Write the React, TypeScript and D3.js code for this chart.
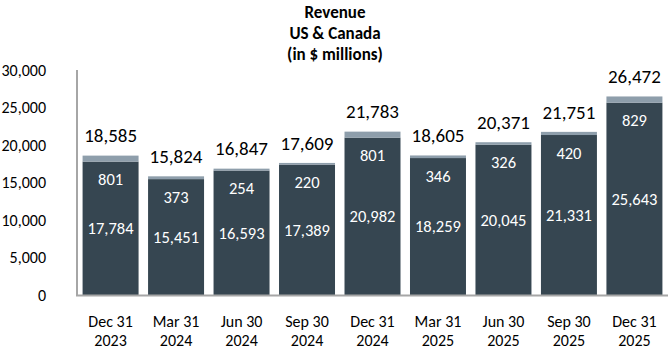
import { useRef, useEffect } from "react";
import * as d3 from "d3";

const W = 670;
const H = 352;

const categories = [
  ["Dec 31", "2023"],
  ["Mar 31", "2024"],
  ["Jun 30", "2024"],
  ["Sep 30", "2024"],
  ["Dec 31", "2024"],
  ["Mar 31", "2025"],
  ["Jun 30", "2025"],
  ["Sep 30", "2025"],
  ["Dec 31", "2025"],
];
const baseValues = [17784, 15451, 16593, 17389, 20982, 18259, 20045, 21331, 25643];
const topValues = [801, 373, 254, 220, 801, 346, 326, 420, 829];
const totals = [18585, 15824, 16847, 17609, 21783, 18605, 20371, 21751, 26472];
const yTicks = [0, 5000, 10000, 15000, 20000, 25000, 30000];
const titleLines = ["Revenue", "US & Canada", "(in $ millions)"];

const FONT = "Carlito, Calibri, Lato, sans-serif";
const DARK = "#364651";
const LIGHT = "#8e9eab";
const AXIS = "#a6a6a6";

function App() {
  const ref = useRef<SVGSVGElement>(null);

  useEffect(() => {
    const svg = d3.select(ref.current);
    svg.selectAll("*").remove();

    const keys = categories.map((c) => c.join(" "));
    const x = d3.scaleBand().domain(keys).range([78, 667]).paddingInner(0.145).paddingOuter(0.07);
    const y = d3.scaleLinear().domain([0, 30000]).range([295, 70]);
    const fmt = d3.format(",");

    // title
    svg
      .append("g")
      .selectAll("text")
      .data(titleLines)
      .join("text")
      .attr("x", 335)
      .attr("y", (_, i) => 18 + i * 21)
      .attr("text-anchor", "middle")
      .style("font-family", FONT)
      .style("font-size", "17px")
      .style("font-weight", "bold")
      .text((d) => d);

    // y tick labels
    svg
      .append("g")
      .selectAll("text")
      .data(yTicks)
      .join("text")
      .attr("x", 46)
      .attr("y", (d) => y(d))
      .attr("dy", "0.35em")
      .attr("text-anchor", "end")
      .style("font-family", FONT)
      .style("font-size", "16px")
      .text((d) => fmt(d));

    const bars = svg.append("g");
    // dark base segment
    bars
      .selectAll(".base")
      .data(baseValues)
      .join("rect")
      .attr("class", "base")
      .attr("x", (_, i) => x(keys[i])!)
      .attr("width", x.bandwidth())
      .attr("y", (d) => y(d))
      .attr("height", (d) => y(0) - y(d))
      .attr("fill", DARK);
    // light top segment
    bars
      .selectAll(".top")
      .data(topValues)
      .join("rect")
      .attr("class", "top")
      .attr("x", (_, i) => x(keys[i])!)
      .attr("width", x.bandwidth())
      .attr("y", (d, i) => y(baseValues[i] + d))
      .attr("height", (d, i) => y(baseValues[i]) - y(baseValues[i] + d))
      .attr("fill", LIGHT);

    // axes lines
    svg
      .append("line")
      .attr("x1", 77)
      .attr("x2", 77)
      .attr("y1", y(30000))
      .attr("y2", y(0) + 1)
      .attr("stroke", AXIS)
      .attr("stroke-width", 2);
    svg
      .append("line")
      .attr("x1", 76)
      .attr("x2", 668)
      .attr("y1", y(0) + 0.5)
      .attr("y2", y(0) + 0.5)
      .attr("stroke", AXIS)
      .attr("stroke-width", 2);

    // labels inside bars
    const labels = svg.append("g").style("font-family", FONT).attr("text-anchor", "middle");
    labels
      .selectAll(".baseLbl")
      .data(baseValues)
      .join("text")
      .attr("class", "baseLbl")
      .attr("x", (_, i) => x(keys[i])! + x.bandwidth() / 2)
      .attr("y", (d) => (y(d) + y(0)) / 2)
      .attr("dy", "0.35em")
      .attr("fill", "#ffffff")
      .style("font-size", "16.5px")
      .text((d) => fmt(d));
    labels
      .selectAll(".topLbl")
      .data(topValues)
      .join("text")
      .attr("class", "topLbl")
      .attr("x", (_, i) => x(keys[i])! + x.bandwidth() / 2)
      .attr("y", (_, i) => y(baseValues[i]) + 18)
      .attr("dy", "0.35em")
      .attr("fill", "#ffffff")
      .style("font-size", "16.5px")
      .text((d) => fmt(d));
    labels
      .selectAll(".totLbl")
      .data(totals)
      .join("text")
      .attr("class", "totLbl")
      .attr("x", (_, i) => x(keys[i])! + x.bandwidth() / 2)
      .attr("y", (d) => y(d) - 20)
      .attr("dy", "0.35em")
      .attr("fill", "#000000")
      .style("font-size", "19px")
      .text((d) => fmt(d));

    // x category labels
    const xl = svg
      .append("g")
      .selectAll("text")
      .data(categories)
      .join("text")
      .attr("text-anchor", "middle")
      .style("font-family", FONT)
      .style("font-size", "16px")
      .attr("transform", (_, i) => `translate(${x(keys[i])! + x.bandwidth() / 2},321)`);
    xl.append("tspan").attr("x", 0).attr("dy", "0.35em").text((d) => d[0]);
    xl.append("tspan").attr("x", 0).attr("dy", "1.2em").text((d) => d[1]);
  }, []);

  return (
    <svg
      ref={ref}
      width={W}
      height={H}
      style={{ position: "absolute", left: 0, top: 0, background: "#ffffff" }}
    />
  );
}

export default App;
